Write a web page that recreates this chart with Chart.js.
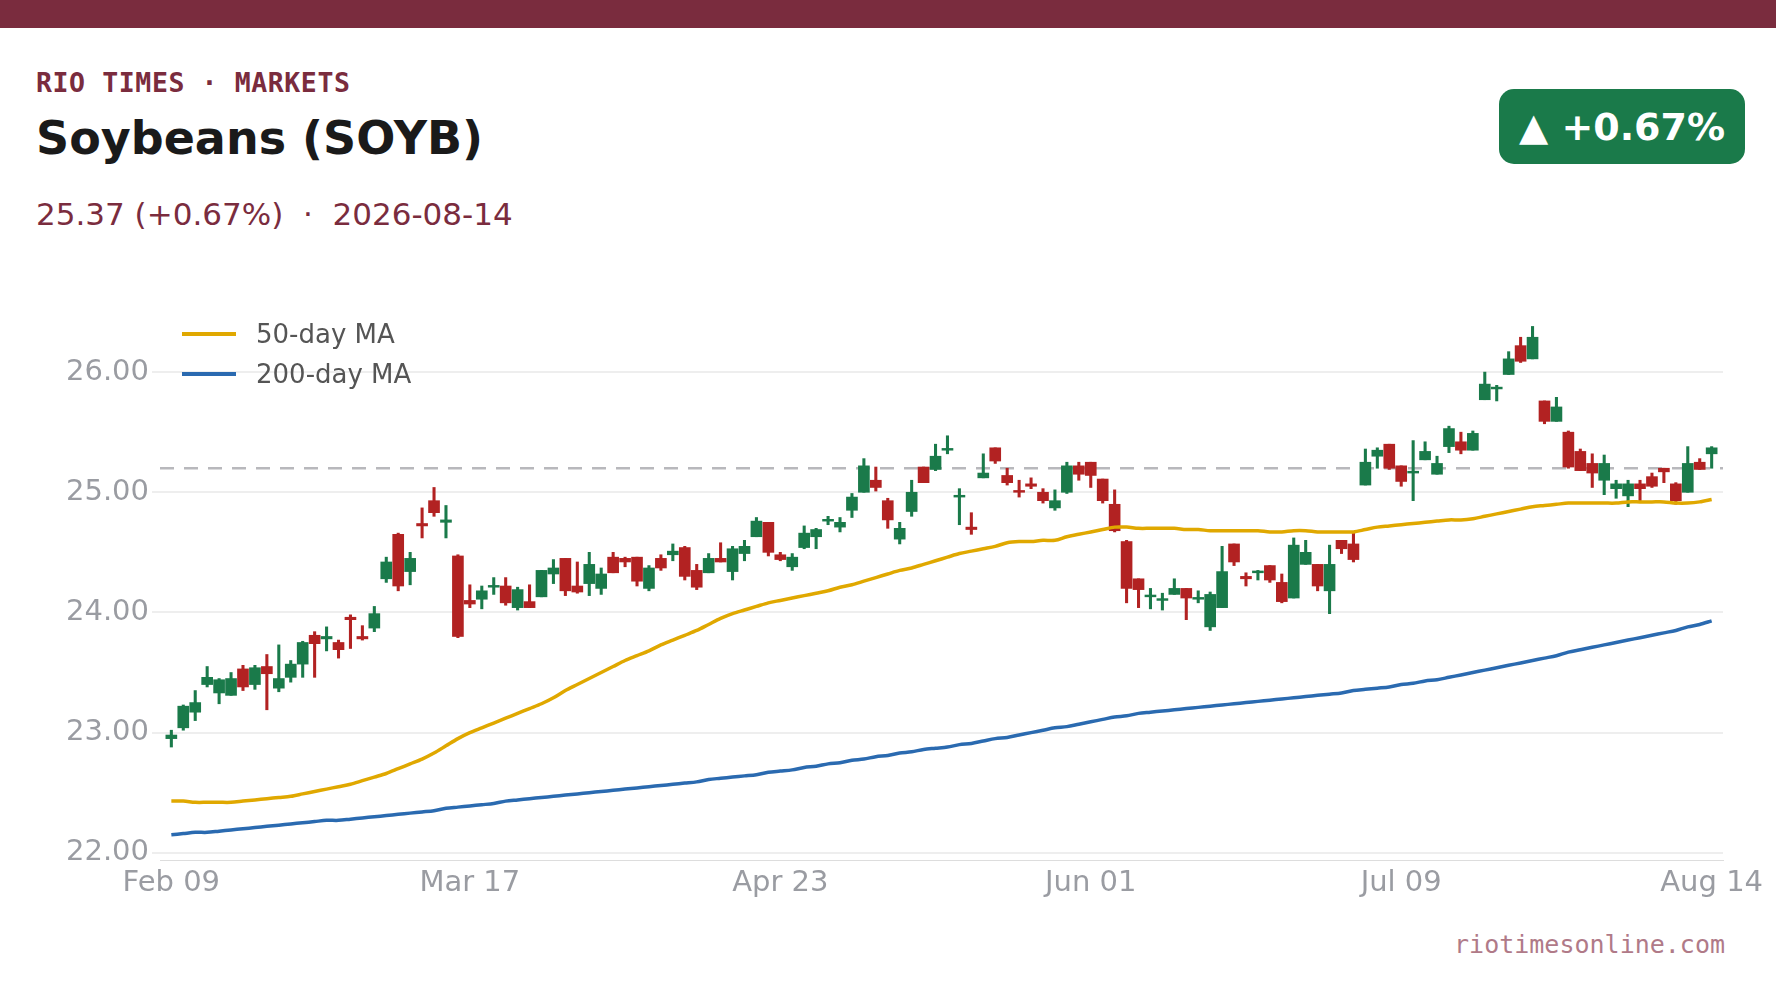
<!DOCTYPE html>
<html><head><meta charset="utf-8">
<script src="https://cdn.jsdelivr.net/npm/chart.js@4"></script>
<style>
body{margin:0;width:1776px;height:999px;background:#fff;position:relative;overflow:hidden;font-family:"DejaVu Sans",sans-serif}
#bar{position:absolute;left:0;top:0;width:1776px;height:28px;background:#7a2c3e}
#kick{position:absolute;left:36px;top:67px;font:bold 26.5px "DejaVu Sans Mono",monospace;color:#7a2c3e;letter-spacing:0.6px}
#title{position:absolute;left:36px;top:111px;font:bold 46px "DejaVu Sans",sans-serif;color:#1a1a1a}
#sub{position:absolute;left:36px;top:196px;font:31px "DejaVu Sans",sans-serif;color:#7a2c3e}
#badge{position:absolute;left:1499px;top:89px;width:246px;height:75px;border-radius:15px;background:#1a7a4a;color:#fff;font:bold 38px "DejaVu Sans",sans-serif;display:flex;align-items:center;justify-content:center}
#wrap{position:absolute;left:60px;top:300px;width:1716px;height:604px}
#legend{position:absolute;left:182px;top:314px;font:26px "DejaVu Sans",sans-serif;color:#555}
#legend div{display:flex;align-items:center;height:40px}
#legend span{display:inline-block;width:54px;height:4px;margin-right:20px}
#foot{position:absolute;right:51px;top:930px;font:25px "DejaVu Sans Mono",monospace;color:#b07a88}
</style></head><body>
<div id="bar"></div>
<div id="kick">RIO TIMES · MARKETS</div>
<div id="title">Soybeans (SOYB)</div>
<div id="sub">25.37 (+0.67%)&nbsp; · &nbsp;2026-08-14</div>
<div id="badge">▲ +0.67%</div>
<div id="wrap"><canvas id="c"></canvas></div>
<div id="legend"><div><span style="background:#e0a800"></span>50-day MA</div><div><span style="background:#2a6ab0"></span>200-day MA</div></div>
<div id="foot">riotimesonline.com</div>
<script>
const openV=[22.95,23.04,23.17,23.40,23.33,23.31,23.53,23.40,23.55,23.37,23.46,23.57,23.81,23.78,23.75,23.96,23.80,23.87,24.28,24.65,24.34,24.74,24.93,24.75,24.47,24.10,24.11,24.21,24.22,24.04,24.09,24.13,24.32,24.45,24.22,24.24,24.20,24.46,24.45,24.46,24.20,24.45,24.48,24.54,24.35,24.33,24.45,24.34,24.49,24.63,24.75,24.48,24.38,24.54,24.63,24.76,24.71,24.85,25.00,25.10,24.93,24.61,24.84,25.21,25.19,25.35,24.96,24.71,25.12,25.37,25.14,25.01,25.07,25.00,24.87,25.00,25.22,25.25,25.11,24.90,24.59,24.28,24.13,24.10,24.15,24.20,24.11,23.88,24.04,24.57,24.30,24.33,24.39,24.25,24.12,24.40,24.40,24.18,24.60,24.57,25.06,25.30,25.40,25.22,25.16,25.27,25.15,25.38,25.42,25.35,25.77,25.86,25.98,26.22,26.11,25.76,25.59,25.50,25.34,25.24,25.10,25.03,24.97,25.07,25.13,25.20,25.07,25.00,25.25,25.32];
const closeV=[22.98,23.22,23.25,23.46,23.44,23.45,23.38,23.54,23.49,23.45,23.57,23.75,23.74,23.80,23.69,23.94,23.78,23.99,24.42,24.22,24.45,24.72,24.83,24.77,23.80,24.07,24.18,24.22,24.08,24.19,24.04,24.35,24.37,24.18,24.17,24.40,24.32,24.33,24.42,24.26,24.37,24.37,24.51,24.30,24.21,24.45,24.42,24.53,24.55,24.76,24.50,24.44,24.46,24.66,24.69,24.77,24.75,24.96,25.22,25.04,24.77,24.70,25.00,25.08,25.30,25.36,24.97,24.69,25.16,25.26,25.08,25.00,25.05,24.93,24.93,25.22,25.15,25.14,24.93,24.68,24.20,24.19,24.14,24.11,24.20,24.12,24.12,24.15,24.34,24.42,24.28,24.34,24.27,24.09,24.56,24.50,24.22,24.40,24.53,24.44,25.25,25.35,25.20,25.09,25.17,25.34,25.24,25.53,25.35,25.49,25.90,25.87,26.11,26.09,26.29,25.59,25.71,25.21,25.18,25.16,25.24,25.07,25.07,25.03,25.05,25.17,24.93,25.24,25.19,25.37];
const highV=[23.02,23.23,23.35,23.55,23.45,23.50,23.56,23.56,23.65,23.73,23.60,23.76,23.84,23.88,23.77,23.98,23.89,24.05,24.46,24.66,24.50,24.87,25.04,24.89,24.48,24.23,24.22,24.29,24.29,24.21,24.23,24.35,24.44,24.45,24.42,24.50,24.37,24.50,24.46,24.46,24.39,24.48,24.57,24.55,24.40,24.49,24.58,24.55,24.60,24.79,24.75,24.50,24.49,24.72,24.70,24.80,24.79,24.99,25.28,25.21,24.95,24.75,25.10,25.21,25.40,25.47,25.03,24.83,25.32,25.37,25.20,25.10,25.12,25.03,25.02,25.25,25.25,25.25,25.11,25.02,24.60,24.28,24.20,24.16,24.28,24.20,24.18,24.17,24.55,24.57,24.33,24.35,24.39,24.32,24.62,24.60,24.40,24.56,24.60,24.67,25.36,25.37,25.40,25.22,25.43,25.42,25.30,25.55,25.50,25.51,26.00,25.89,26.17,26.29,26.38,25.76,25.79,25.51,25.36,25.32,25.31,25.10,25.10,25.10,25.16,25.20,25.08,25.38,25.28,25.38];
const lowV=[22.88,23.02,23.10,23.38,23.24,23.31,23.35,23.36,23.19,23.34,23.42,23.46,23.46,23.68,23.62,23.70,23.77,23.84,24.25,24.18,24.23,24.62,24.80,24.62,23.79,24.04,24.03,24.15,24.06,24.02,24.04,24.13,24.24,24.14,24.16,24.14,24.15,24.33,24.38,24.22,24.18,24.35,24.43,24.27,24.19,24.33,24.42,24.27,24.43,24.63,24.47,24.43,24.35,24.53,24.53,24.73,24.67,24.79,25.00,25.01,24.70,24.57,24.80,25.08,25.18,25.32,24.73,24.65,25.12,25.24,25.06,24.96,25.03,24.91,24.85,24.99,25.10,25.04,24.91,24.67,24.08,24.04,24.03,24.02,24.15,23.94,24.08,23.85,24.04,24.39,24.22,24.27,24.25,24.08,24.12,24.40,24.18,23.99,24.49,24.42,25.06,25.20,25.19,25.05,24.93,25.27,25.15,25.33,25.32,25.35,25.77,25.76,25.98,26.08,26.11,25.57,25.59,25.20,25.18,25.04,24.98,24.95,24.88,24.93,25.04,25.08,24.90,25.00,25.19,25.20];
const ma50=[22.43,22.43,22.42,22.42,22.42,22.42,22.43,22.44,22.45,22.46,22.47,22.49,22.51,22.53,22.55,22.57,22.60,22.63,22.66,22.70,22.74,22.78,22.83,22.89,22.95,23.00,23.04,23.08,23.12,23.16,23.20,23.24,23.29,23.35,23.40,23.45,23.50,23.55,23.60,23.64,23.68,23.73,23.77,23.81,23.85,23.90,23.95,23.99,24.02,24.05,24.08,24.10,24.12,24.14,24.16,24.18,24.21,24.23,24.26,24.29,24.32,24.35,24.37,24.40,24.43,24.46,24.49,24.51,24.53,24.55,24.58,24.59,24.59,24.60,24.60,24.63,24.65,24.67,24.69,24.71,24.71,24.70,24.70,24.70,24.70,24.69,24.69,24.68,24.68,24.68,24.68,24.68,24.67,24.67,24.68,24.68,24.67,24.67,24.67,24.67,24.69,24.71,24.72,24.73,24.74,24.75,24.76,24.77,24.77,24.78,24.80,24.82,24.84,24.86,24.88,24.89,24.90,24.91,24.91,24.91,24.91,24.91,24.92,24.92,24.92,24.92,24.91,24.91,24.92,24.94];
const ma200=[22.15,22.16,22.17,22.17,22.18,22.19,22.20,22.21,22.22,22.23,22.24,22.25,22.26,22.27,22.27,22.28,22.29,22.30,22.31,22.32,22.33,22.34,22.35,22.37,22.38,22.39,22.40,22.41,22.43,22.44,22.45,22.46,22.47,22.48,22.49,22.50,22.51,22.52,22.53,22.54,22.55,22.56,22.57,22.58,22.59,22.61,22.62,22.63,22.64,22.65,22.67,22.68,22.69,22.71,22.72,22.74,22.75,22.77,22.78,22.80,22.81,22.83,22.84,22.86,22.87,22.88,22.90,22.91,22.93,22.95,22.96,22.98,23.00,23.02,23.04,23.05,23.07,23.09,23.11,23.13,23.14,23.16,23.17,23.18,23.19,23.20,23.21,23.22,23.23,23.24,23.25,23.26,23.27,23.28,23.29,23.30,23.31,23.32,23.33,23.35,23.36,23.37,23.38,23.40,23.41,23.43,23.44,23.46,23.48,23.50,23.52,23.54,23.56,23.58,23.60,23.62,23.64,23.67,23.69,23.71,23.73,23.75,23.77,23.79,23.81,23.83,23.85,23.88,23.90,23.93];
const yTicks=[22,23,24,25,26];
const xTickLabels=['Feb 09','Mar 17','Apr 23','Jun 01','Jul 09','Aug 14'];
const refLevel=25.20;
const startDate='2026-02-09';
const holidays=['2026-02-16','2026-04-03','2026-05-25','2026-06-19','2026-07-03'];
const MON=['Jan','Feb','Mar','Apr','May','Jun','Jul','Aug','Sep','Oct','Nov','Dec'];
const labels=[];
{let d=new Date(startDate+'T12:00:00Z');while(labels.length<openV.length){const iso=d.toISOString().slice(0,10);const wd=d.getUTCDay();if(wd!==0&&wd!==6&&!holidays.includes(iso))labels.push(MON[d.getUTCMonth()]+' '+String(d.getUTCDate()).padStart(2,'0'));d.setUTCDate(d.getUTCDate()+1);}}
const UP='#1a7a4a',DN='#b22222';
const cols=openV.map((o,i)=>closeV[i]>=o?UP:DN);
const bodies=openV.map((o,i)=>{let lo=Math.min(o,closeV[i]),hi=Math.max(o,closeV[i]);if(hi-lo<0.015)hi=lo+0.015;return {x:i,y:[lo,hi]};});
const wicks=lowV.map((l,i)=>({x:i,y:[l,highV[i]]}));
const refPlugin={id:'ref',beforeDatasetsDraw(ch){const y=ch.scales.y.getPixelForValue(refLevel),a=ch.chartArea,c=ch.ctx;c.save();c.strokeStyle='#b8b8bc';c.lineWidth=2.5;c.setLineDash([14,10]);c.beginPath();c.moveTo(a.left,y);c.lineTo(a.right,y);c.stroke();c.restore();}};
new Chart(document.getElementById('c'),{
 type:'bar',
 data:{datasets:[
  {type:'line',data:ma50.map((v,i)=>({x:i,y:v})),borderColor:'#e0a800',borderWidth:3.5,pointRadius:0,tension:0.3,order:0},
  {type:'line',data:ma200.map((v,i)=>({x:i,y:v})),borderColor:'#2a6ab0',borderWidth:3.5,pointRadius:0,tension:0.3,order:0},
  {data:bodies,backgroundColor:cols,barThickness:11,order:1,grouped:false},
  {data:wicks,backgroundColor:cols,barThickness:2.4,order:2,grouped:false}
 ]},
 options:{responsive:true,maintainAspectRatio:false,animation:false,parsing:{xAxisKey:'x',yAxisKey:'y'},
  layout:{padding:{top:6,right:53,left:0,bottom:0}},
  plugins:{legend:{display:false},tooltip:{enabled:false}},
  scales:{
   x:{type:'linear',min:-0.95,max:129.95,offset:false,grid:{display:false},border:{color:'#ddd'},
      afterFit(s){s.height=44;s.paddingLeft=0;s.paddingRight=0;},
      afterBuildTicks(s){s.ticks=labels.map((l,i)=>xTickLabels.includes(l)?{value:i}:null).filter(Boolean);},
      ticks:{autoSkip:false,maxRotation:0,color:'#9a9ca2',font:{size:29,family:'DejaVu Sans'},padding:-2,
        callback(v){return labels[Math.round(v)];}}},
   y:{min:21.94,max:26.55,afterFit(s){s.width=100;s.paddingTop=0;s.paddingBottom=0;},afterBuildTicks(s){s.ticks=yTicks.map(v=>({value:v}));},
      grid:{color:'#eeeeee',lineWidth:2},border:{display:false},
      ticks:{color:'#9a9ca2',font:{size:29,family:'DejaVu Sans'},padding:3,callback:v=>v.toFixed(2)}}
  }},
 plugins:[refPlugin]
});
</script></body></html>
